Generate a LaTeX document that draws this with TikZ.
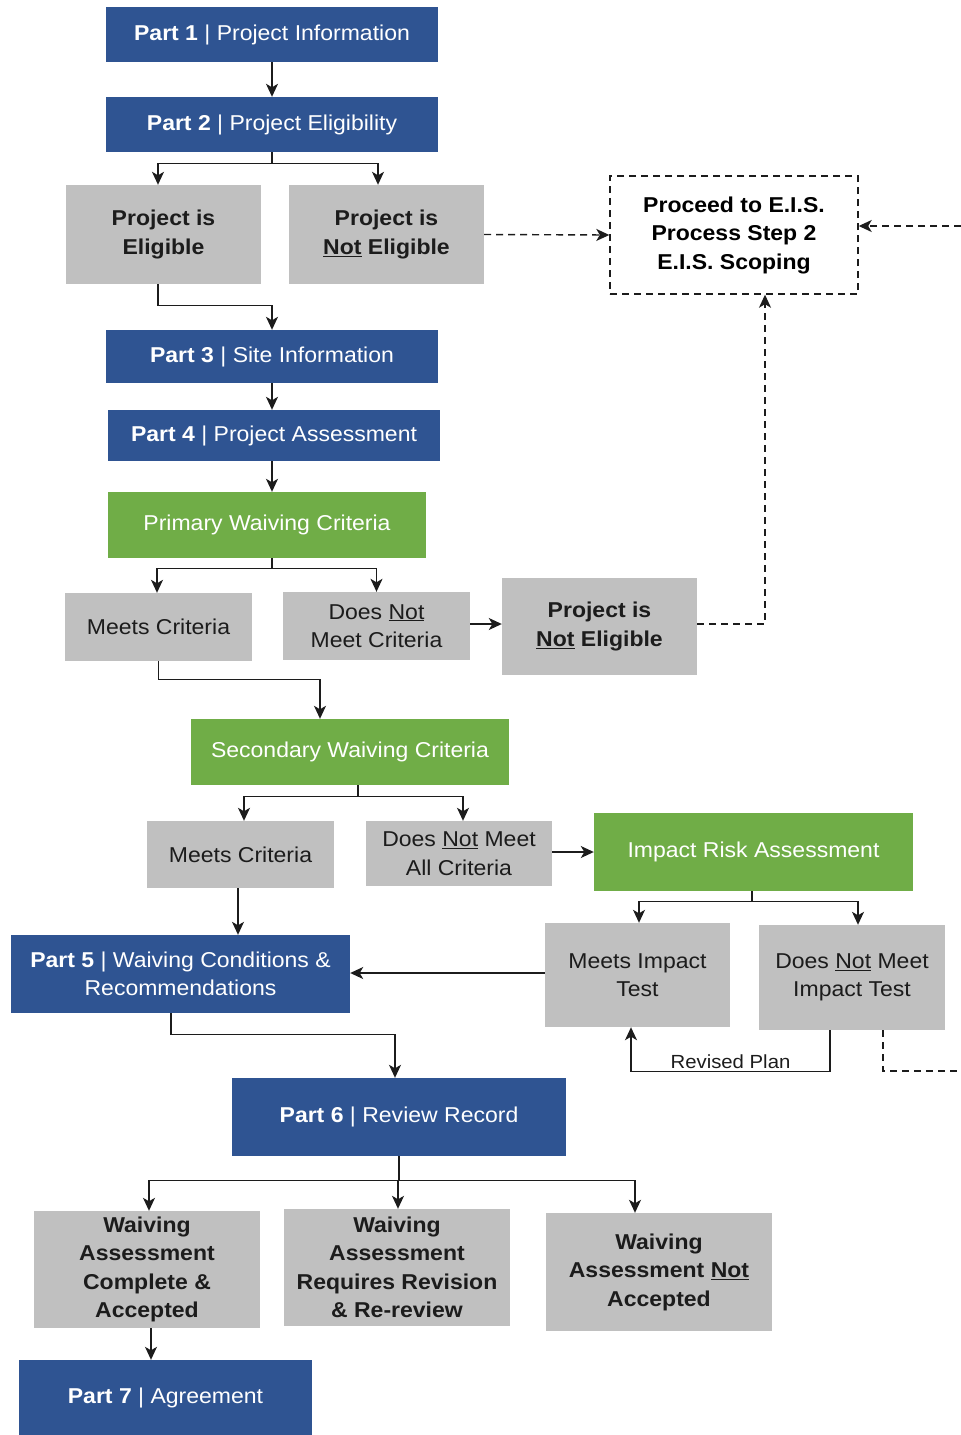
\documentclass[tikz,border=0pt]{standalone}
\usepackage{fontspec}
\setmainfont[FakeStretch=1.07]{Liberation Sans}
\usetikzlibrary{arrows.meta}
\definecolor{partblue}{RGB}{47,84,146}
\definecolor{critgreen}{RGB}{112,173,71}
\definecolor{boxgray}{RGB}{192,192,192}
\definecolor{txtdark}{RGB}{28,28,28}
\begin{document}
\begin{tikzpicture}[x=1pt,y=-1pt,
  every node/.style={font=\fontsize{21.5}{28.5}\selectfont, align=center, inner sep=0pt},
  wh/.style 2 args={minimum width=#1pt, minimum height=#2pt},
  part/.style={fill=partblue, text=white},
  crit/.style={fill=critgreen, text=white},
  result/.style={fill=boxgray, text=txtdark},
  eisbox/.style={draw=txtdark, line width=1.4pt, dash pattern=on 7pt off 5pt},
  flow/.style={draw=txtdark, line width=1.4pt, -{Stealth[length=13pt,width=12pt,inset=3.5pt]}},
  dashflow/.style={flow, dash pattern=on 7pt off 5pt},
  dashline/.style={draw=txtdark, line width=1.4pt, dash pattern=on 7pt off 5pt}]
\useasboundingbox (0,0) rectangle (961,1435);
% parts 1 and 2
\node[part, wh={332}{55}] (p1) at (272,34.5) {\textbf{Part 1} | Project Information};
\node[part, wh={332}{55}] (p2) at (272,124.5) {\textbf{Part 2} | Project Eligibility};
\node[result, wh={195}{99}] (elig) at (163.5,234.5) {\textbf{Project is}\\\textbf{Eligible}};
\node[result, wh={195}{99}] (notelig) at (386.5,234.5) {\textbf{Project is}\\\textbf{\underline{Not} Eligible}};
\node[eisbox, wh={248}{118}] (eis) at (734,235) {\textbf{Proceed to E.I.S.}\\\textbf{Process Step 2}\\\textbf{E.I.S. Scoping}};
% parts 3 and 4
\node[part, wh={332}{53}] (p3) at (272,356.5) {\textbf{Part 3} | Site Information};
\node[part, wh={332}{51}] (p4) at (274,435.5) {\textbf{Part 4} | Project Assessment};
\node[crit, wh={318}{66}] (primary) at (267,525) {Primary Waiving Criteria};
\node[result, wh={187}{68}] (meets1) at (158.5,627) {Meets Criteria};
\node[result, wh={187}{68}] (doesnot1) at (376.5,626) {Does \underline{Not}\\Meet Criteria};
\node[result, wh={195}{97}] (notelig2) at (599.5,626.5) {\textbf{Project is}\\\textbf{\underline{Not} Eligible}};
\node[crit, wh={318}{66}] (secondary) at (350,752) {Secondary Waiving Criteria};
\node[result, wh={187}{67}] (meets2) at (240.5,854.5) {Meets Criteria};
\node[result, wh={186}{65}] (doesnot2) at (459,853.5) {Does \underline{Not} Meet\\All Criteria};
\node[crit, wh={319}{78}] (impact) at (753.5,852) {Impact Risk Assessment};
% part 5
\node[part, wh={339}{78}] (p5) at (180.5,974) {\textbf{Part 5} | Waiving Conditions \&\\Recommendations};
\node[result, wh={185}{104}] (meetsimp) at (637.5,975) {Meets Impact\\Test};
\node[result, wh={186}{105}] (doesnotimp) at (852,977.5) {Does \underline{Not} Meet\\Impact Test};
% parts 6 and 7
\node[part, wh={334}{78}] (p6) at (399,1117) {\textbf{Part 6} | Review Record};
\node[result, wh={226}{117}] (wac) at (147,1269.5) {\textbf{Waiving}\\\textbf{Assessment}\\\textbf{Complete \&}\\\textbf{Accepted}};
\node[result, wh={226}{117}] (war) at (397,1267.5) {\textbf{Waiving}\\\textbf{Assessment}\\\textbf{Requires Revision}\\\textbf{\& Re-review}};
\node[result, wh={226}{118}] (wana) at (659,1272) {\textbf{Waiving}\\\textbf{Assessment \underline{Not}}\\\textbf{Accepted}};
\node[part, wh={293}{75}] (p7) at (165.5,1397.5) {\textbf{Part 7} | Agreement};
\coordinate (eisin) at (961,226);
\coordinate (riskout) at (961,1071);
% connectors
\draw[flow] (p1.south) -- (p2.north);
\draw[flow] (p2.south) -- ++(0,11) -| ([xshift=-5.5pt]elig.north);
\draw[flow] (p2.south) -- ++(0,11) -| ([xshift=-8.5pt]notelig.north);
\draw[flow] ([xshift=-5.5pt]elig.south) -- ++(0,21) -| (p3.north);
\draw[dashflow] (notelig.east) -- (eis.west);
\draw[dashflow] (eisin) -- (eis.east |- eisin);
\draw[flow] (p3.south) -- (p3.south |- p4.north);
\draw[flow] ([xshift=-2pt]p4.south) -- ([xshift=-2pt]p4.south |- primary.north);
\draw[flow] ([xshift=5pt]primary.south) -- ++(0,10) -| ([xshift=-1.5pt]meets1.north);
\draw[flow] ([xshift=5pt]primary.south) -- ++(0,10) -| (doesnot1.north);
\draw[flow] ([yshift=2pt]doesnot1.east) -- ([yshift=2pt]doesnot1.east -| notelig2.west);
\draw[dashflow] ([yshift=2.5pt]notelig2.east) -| ([xshift=31pt]eis.south);
\draw[flow] (meets1.south) -- ++(0,18) -| ([xshift=-30pt]secondary.north);
\draw[flow] ([xshift=8pt]secondary.south) -- ++(0,11) -| ([xshift=3.5pt]meets2.north);
\draw[flow] ([xshift=8pt]secondary.south) -- ++(0,11) -| ([xshift=4pt]doesnot2.north);
\draw[flow] ([yshift=1.5pt]doesnot2.east) -- ([yshift=1.5pt]doesnot2.east -| impact.west);
\draw[flow] ([xshift=-1.5pt]impact.south) -- ++(0,10) -| ([xshift=1.5pt]meetsimp.north);
\draw[flow] ([xshift=-1.5pt]impact.south) -- ++(0,10) -| ([xshift=6pt]doesnotimp.north);
\draw[flow] ([yshift=2pt]meetsimp.west) -- ([yshift=2pt]meetsimp.west -| p5.east);
\draw[flow] ([xshift=-22pt]doesnotimp.south) -- ++(0,41) -| ([xshift=-6.5pt]meetsimp.south)
  node[pos=0.25, above, inner sep=2pt, font=\fontsize{19}{22}\selectfont, text=txtdark] {Revised Plan};
\draw[dashline] ([xshift=31pt]doesnotimp.south) |- (riskout);
\draw[flow] ([xshift=-2.5pt]meets2.south) -- ([xshift=-2.5pt]meets2.south |- p5.north);
\draw[flow] ([xshift=-9.5pt]p5.south) -- ++(0,21) -| ([xshift=-4pt]p6.north);
\draw[flow] (p6.south) -- ++(0,24) -| ([xshift=2pt]wac.north);
\draw[flow] (p6.south) -- ++(0,24) -| ([xshift=1pt]war.north);
\draw[flow] (p6.south) -- ++(0,24) -| ([xshift=-24pt]wana.north);
\draw[flow] ([xshift=4pt]wac.south) -- ([xshift=4pt]wac.south |- p7.north);
\end{tikzpicture}
\end{document}
